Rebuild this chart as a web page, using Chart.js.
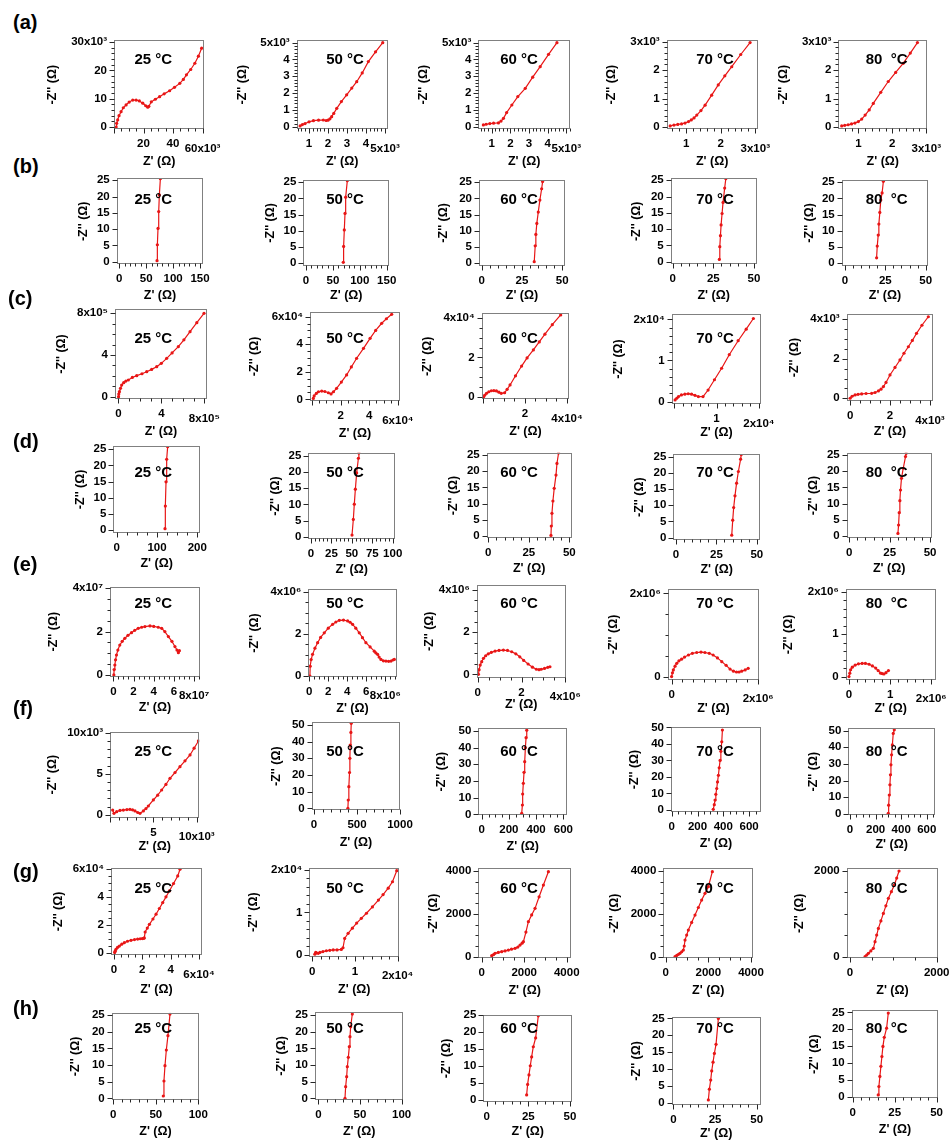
<!DOCTYPE html>
<html>
<head>
<meta charset="utf-8">
<title>Nyquist plots</title>
<script src="https://cdn.jsdelivr.net/npm/chart.js@4.4.1/dist/chart.umd.min.js"></script>
<style>
  html, body { margin: 0; padding: 0; background: #fff; }
  #fig { position: relative; width: 950px; height: 1141px; overflow: hidden;
         font-family: "Liberation Sans", Arial, Helvetica, sans-serif; color: #000; }
  #fig canvas { position: absolute; }
  .row { position: absolute; font-weight: bold; font-size: 20px; transform: translateY(-50%); }
  .temp { position: absolute; font-weight: bold; font-size: 15px; white-space: pre; transform: translate(-50%, -50%); }
</style>
</head>
<body>
<div id="fig"></div>
<script>
// ---- series (Z' , -Z''), in the units of each axis ----
const a25x = [1.4, 1.8, 2.5, 3.4, 4.8, 6.3, 8.2, 10.3, 12.7, 15.0, 17.2, 19.5, 21.5, 22.9, 23.6, 25.3, 28.0, 30.9, 34.0, 37.7, 41.0, 44.6, 47.0, 49.1, 52.0, 54.8, 57.2, 59.4];
const a25y = [0.0, 1.3, 2.5, 4.0, 5.4, 6.8, 7.8, 8.8, 9.5, 9.5, 9.2, 8.4, 7.5, 7.0, 7.3, 8.9, 9.8, 10.7, 11.7, 12.8, 14.0, 15.4, 16.8, 18.4, 20.3, 22.5, 25.0, 27.8];
const a50x = [0.53, 0.65, 0.79, 1.0, 1.23, 1.5, 1.75, 1.9, 2.0, 2.1, 2.19, 2.3, 2.46, 2.7, 2.98, 3.25, 3.51, 3.8, 4.12, 4.5, 4.88];
const a50y = [0.06, 0.14, 0.2, 0.3, 0.37, 0.4, 0.41, 0.38, 0.4, 0.48, 0.61, 0.8, 1.1, 1.5, 1.9, 2.3, 2.68, 3.2, 3.87, 4.45, 4.99];
const a60x = [0.55, 0.7, 0.9, 1.1, 1.36, 1.5, 1.63, 1.8, 2.08, 2.4, 2.8, 3.2, 3.6, 4.05, 4.5];
const a60y = [0.12, 0.16, 0.2, 0.22, 0.24, 0.35, 0.51, 0.85, 1.3, 1.8, 2.29, 2.95, 3.57, 4.3, 4.99];
const a70x = [0.54, 0.65, 0.76, 0.87, 0.97, 1.07, 1.15, 1.23, 1.31, 1.43, 1.55, 1.74, 1.93, 2.12, 2.32, 2.58, 2.85];
const a70y = [0.04, 0.07, 0.09, 0.11, 0.14, 0.19, 0.25, 0.32, 0.42, 0.58, 0.77, 1.12, 1.48, 1.8, 2.12, 2.55, 2.97];
const a80x = [0.51, 0.6, 0.7, 0.8, 0.9, 1.0, 1.1, 1.2, 1.32, 1.44, 1.66, 1.88, 2.1, 2.32, 2.53, 2.74];
const a80y = [0.04, 0.06, 0.08, 0.11, 0.14, 0.19, 0.28, 0.42, 0.6, 0.83, 1.22, 1.6, 1.92, 2.24, 2.6, 2.97];

const b25x = [70.1, 70.7, 71.9, 73.2, 74.4, 76.3];
const b25y = [0.3, 5.2, 10.2, 15.4, 20.5, 25.5];
const b50x = [69.3, 69.9, 71.2, 72.5, 73.7, 76.8];
const b50y = [0.3, 5.2, 10.3, 15.4, 20.4, 25.5];
const b60x = [32.6, 33.2, 33.6, 34.2, 35.1, 36.1, 37.2, 37.8];
const b60y = [0.5, 5.4, 8.9, 12.3, 15.8, 19.5, 23.0, 25.2];
const b70x = [28.7, 29.0, 29.4, 29.8, 30.4, 31.0, 32.0, 32.7];
const b70y = [0.7, 4.6, 8.0, 11.3, 14.8, 18.2, 22.6, 25.5];
const b80x = [19.6, 20.0, 20.6, 21.0, 21.6, 22.2, 23.0, 23.8];
const b80y = [1.7, 5.3, 8.7, 12.1, 15.7, 19.5, 21.7, 25.3];

const c25x = [0.02, 0.04, 0.1, 0.2, 0.31, 0.5, 0.7, 0.93, 1.3, 1.71, 2.2, 2.64, 3.1, 3.57, 4.0, 4.5, 5.0, 5.58, 6.1, 6.67, 7.3, 7.97];
const c25y = [0.0, 0.25, 0.48, 0.8, 1.12, 1.35, 1.5, 1.6, 1.85, 2.02, 2.2, 2.4, 2.62, 2.88, 3.2, 3.68, 4.2, 4.8, 5.45, 6.24, 7.1, 8.0];
const c50x = [0.09, 0.15, 0.3, 0.45, 0.68, 0.9, 1.14, 1.33, 1.5, 1.72, 2.05, 2.42, 2.75, 3.12, 3.6, 4.06, 4.45, 4.87, 5.2, 5.57];
const c50y = [0.07, 0.25, 0.43, 0.55, 0.6, 0.57, 0.48, 0.39, 0.55, 0.8, 1.25, 1.77, 2.35, 2.98, 3.7, 4.43, 5.0, 5.52, 5.85, 6.17];
const c60x = [0.02, 0.08, 0.17, 0.28, 0.4, 0.52, 0.64, 0.76, 0.87, 1.03, 1.15, 1.29, 1.55, 1.84, 2.1, 2.4, 2.68, 2.95, 3.3, 3.7];
const c60y = [0.0, 0.1, 0.2, 0.28, 0.33, 0.34, 0.32, 0.26, 0.2, 0.23, 0.4, 0.62, 1.08, 1.57, 1.98, 2.38, 2.78, 3.17, 3.65, 4.14];
const c70x = [0.02, 0.06, 0.1, 0.17, 0.25, 0.33, 0.41, 0.49, 0.57, 0.68, 0.8, 0.95, 1.12, 1.3, 1.51, 1.7, 1.87];
const c70y = [0.04, 0.08, 0.12, 0.16, 0.18, 0.19, 0.18, 0.15, 0.12, 0.12, 0.28, 0.53, 0.81, 1.14, 1.48, 1.76, 2.02];
const c80x = [0.0, 0.1, 0.25, 0.4, 0.58, 0.8, 1.08, 1.25, 1.42, 1.55, 1.67, 1.8, 2.0, 2.25, 2.5, 2.7, 2.92, 3.12, 3.33, 3.6, 3.92];
const c80y = [0.0, 0.1, 0.17, 0.2, 0.22, 0.24, 0.25, 0.29, 0.37, 0.46, 0.59, 0.8, 1.18, 1.56, 1.94, 2.28, 2.61, 2.93, 3.29, 3.7, 4.13];

const d25x = [119.9, 120.7, 122.4, 124.0, 126.5];
const d25y = [0.4, 7.4, 14.9, 21.9, 25.8];
const d50x = [50.2, 51.8, 53.0, 54.3, 55.9, 58.0, 58.6];
const d50y = [0.6, 5.4, 10.1, 14.7, 19.7, 24.2, 25.8];
const d60x = [38.7, 38.9, 39.3, 39.9, 40.7, 41.8, 42.4, 43.4];
const d60y = [0.2, 3.1, 7.0, 10.8, 14.7, 18.8, 22.4, 25.6];
const d70x = [34.5, 35.1, 35.7, 36.5, 37.5, 38.6, 40.0, 40.4];
const d70y = [0.8, 5.4, 9.3, 12.9, 16.8, 20.4, 24.2, 25.6];
const d80x = [30.1, 30.5, 30.9, 31.3, 31.7, 32.3, 33.4, 34.8, 35.2];
const d80y = [0.8, 3.4, 7.2, 10.9, 14.2, 17.8, 20.9, 24.5, 25.5];

const e25x = [0.05, 0.08, 0.15, 0.22, 0.31, 0.45, 0.64, 0.88, 1.14, 1.45, 1.8, 2.12, 2.46, 2.8, 3.13, 3.63, 4.0, 4.45, 4.79, 5.1, 5.45, 5.8, 6.1, 6.3, 6.44, 6.54];
const e25y = [0.0, 0.25, 0.46, 0.7, 0.92, 1.15, 1.38, 1.55, 1.69, 1.83, 1.95, 2.06, 2.15, 2.2, 2.23, 2.26, 2.24, 2.2, 2.15, 2.0, 1.77, 1.55, 1.31, 1.15, 1.03, 1.12];
const e50x = [0.07, 0.1, 0.2, 0.35, 0.6, 0.88, 1.2, 1.58, 2.0, 2.46, 2.8, 3.16, 3.6, 4.04, 4.3, 4.56, 4.9, 5.26, 5.6, 5.96, 6.4, 6.84, 7.0, 7.19, 7.35, 7.54, 7.8, 8.07, 8.35, 8.6, 8.8, 8.95];
const e50y = [0.0, 0.47, 0.78, 1.03, 1.32, 1.58, 1.83, 2.05, 2.27, 2.45, 2.56, 2.64, 2.65, 2.61, 2.55, 2.45, 2.27, 2.05, 1.82, 1.58, 1.38, 1.18, 1.1, 1.03, 0.9, 0.79, 0.72, 0.71, 0.7, 0.71, 0.76, 0.79];
const e60x = [0.03, 0.06, 0.11, 0.18, 0.26, 0.36, 0.48, 0.62, 0.79, 0.97, 1.17, 1.36, 1.55, 1.74, 1.92, 2.1, 2.3, 2.5, 2.68, 2.8, 2.9, 3.05, 3.2, 3.3];
const e60y = [0.0, 0.22, 0.44, 0.6, 0.76, 0.88, 0.97, 1.04, 1.1, 1.13, 1.15, 1.13, 1.07, 0.97, 0.83, 0.66, 0.49, 0.34, 0.24, 0.22, 0.24, 0.28, 0.33, 0.36];
const e70x = [0.0, 0.02, 0.04, 0.08, 0.12, 0.17, 0.23, 0.3, 0.39, 0.48, 0.58, 0.68, 0.77, 0.87, 0.96, 1.06, 1.16, 1.26, 1.35, 1.43, 1.5, 1.56, 1.62, 1.7, 1.77];
const e70y = [0.0, 0.09, 0.16, 0.25, 0.32, 0.38, 0.42, 0.47, 0.52, 0.56, 0.58, 0.59, 0.58, 0.56, 0.52, 0.45, 0.36, 0.27, 0.18, 0.13, 0.11, 0.11, 0.13, 0.16, 0.2];
const e80x = [0.0, 0.02, 0.04, 0.08, 0.15, 0.23, 0.32, 0.4, 0.49, 0.57, 0.65, 0.71, 0.77, 0.81, 0.85, 0.9, 0.96];
const e80y = [0.0, 0.08, 0.16, 0.22, 0.27, 0.3, 0.31, 0.31, 0.29, 0.25, 0.2, 0.14, 0.08, 0.07, 0.06, 0.09, 0.14];

const f25x = [0.31, 0.46, 0.77, 1.15, 1.54, 1.95, 2.3, 2.6, 2.88, 3.2, 3.46, 3.85, 4.15, 4.42, 5.0, 5.5, 5.96, 6.45, 6.92, 7.5, 8.07, 8.65, 9.23, 9.7, 10.2];
const f25y = [0.6, 0.2, 0.4, 0.55, 0.6, 0.65, 0.69, 0.62, 0.49, 0.3, 0.2, 0.49, 0.78, 1.09, 1.82, 2.4, 3.03, 3.7, 4.45, 5.15, 5.86, 6.57, 7.28, 8.1, 8.98];
const f50x = [394, 398, 405, 413, 417, 421, 429, 433];
const f50y = [0, 5, 13, 21.5, 30, 38, 45.5, 51];
const f60x = [294, 299, 301, 306, 311, 316, 321, 326, 331];
const f60y = [0.6, 5.6, 12.2, 18.6, 25.2, 31.6, 40, 46, 50.5];
const f70x = [322, 330, 336, 342, 349, 355, 362, 368, 375, 381, 388, 393];
const f70y = [0.4, 3.2, 6, 9.5, 13, 17, 21, 25.5, 30, 35.5, 41.3, 48.4];
const f80x = [299, 302, 307, 312, 316, 320, 325, 331, 338, 346];
const f80y = [0.4, 5.3, 11.4, 17.5, 23.5, 29.5, 35.5, 41.4, 48.3, 50.5];

const g25x = [0.05, 0.08, 0.14, 0.25, 0.38, 0.55, 0.73, 0.95, 1.2, 1.45, 1.67, 1.85, 2.0, 2.1, 2.14, 2.2, 2.35, 2.5, 2.75, 2.97, 3.2, 3.44, 3.67, 3.91, 4.2, 4.5, 4.66];
const g25y = [0.05, 0.15, 0.29, 0.42, 0.52, 0.65, 0.76, 0.86, 0.93, 0.98, 1.02, 1.04, 1.05, 1.07, 1.1, 1.52, 1.8, 2.07, 2.45, 2.79, 3.2, 3.62, 4.03, 4.45, 4.98, 5.52, 6.0];
const g50x = [0.06, 0.08, 0.1, 0.14, 0.18, 0.25, 0.33, 0.41, 0.49, 0.58, 0.68, 0.72, 0.76, 0.84, 0.94, 1.04, 1.15, 1.27, 1.41, 1.55, 1.66, 1.78, 1.88, 1.98];
const g50y = [0.02, 0.06, 0.05, 0.04, 0.06, 0.08, 0.1, 0.11, 0.12, 0.12, 0.13, 0.17, 0.39, 0.51, 0.63, 0.75, 0.86, 0.98, 1.13, 1.29, 1.42, 1.57, 1.72, 1.98];
const g60x = [470, 560, 627, 780, 941, 1100, 1255, 1400, 1569, 1700, 1804, 1900, 1961, 2080, 2196, 2350, 2510, 2700, 2902, 3137];
const g60y = [47, 100, 156, 200, 234, 270, 311, 350, 389, 450, 545, 630, 700, 1150, 1636, 1950, 2259, 2800, 3349, 3972];
const g70x = [437, 520, 600, 672, 750, 828, 870, 906, 984, 1062, 1218, 1375, 1531, 1687, 1844, 2000, 2188];
const g70y = [0, 60, 110, 156, 230, 311, 500, 778, 1010, 1246, 1600, 1947, 2300, 2648, 2960, 3271, 3972];
const g80x = [346, 385, 423, 480, 538, 577, 615, 654, 712, 769, 827, 885, 954, 1023, 1077, 1131];
const g80y = [0, 40, 78, 135, 195, 350, 505, 661, 836, 1011, 1187, 1362, 1517, 1673, 1836, 2000];

const h25x = [58.8, 59.6, 60.8, 62.4, 64.3, 66.7];
const h25y = [0.7, 5.2, 9.8, 14.5, 18.8, 25.3];
const h50x = [32, 32.8, 34, 34.8, 36, 37.2, 38, 38.8, 40.8];
const h50y = [0, 3.5, 6.5, 9.5, 12.3, 15.5, 18.5, 21.5, 25.3];
const h60x = [24, 24.6, 25.4, 26.2, 27, 28, 29.4, 31];
const h60y = [1.5, 4.6, 7.4, 10.1, 12.7, 15.7, 18.3, 24.8];
const h70x = [21, 21.6, 22.4, 23, 23.8, 24.6, 25.6, 27];
const h70y = [0.8, 4, 6.7, 9.4, 12, 14.6, 17.3, 25];
const h80x = [15.2, 15.6, 16.2, 16.8, 17.4, 18, 18.8, 20.2, 21.2];
const h80y = [0.5, 3, 6, 9, 11.9, 14.9, 17.6, 20.3, 24.8];

// ---- tick labels (the value is the leading number) ----
const a25xt = ['20', '40', '60x10³'];
const a25yt = ['0', '10', '20', '30x10³'];
const a5kx = ['1', '2', '3', '4', '5x10³'];
const a5ky = ['0', '1', '2', '3', '4', '5x10³'];
const a3kx = ['1', '2', '3x10³'];
const a3ky = ['0', '1', '2', '3x10³'];
const t25 = ['0', '5', '10', '15', '20', '25'];
const t50 = ['0', '10', '20', '30', '40', '50'];
const t150 = ['0', '50', '100', '150'];
const t100 = ['0', '50', '100'];
const t0_50 = ['0', '25', '50'];
const c25t = ['0', '4', '8x10⁵'];
const c50xt = ['2', '4', '6x10⁴'];
const c50yt = ['0', '2', '4', '6x10⁴'];
const c60xt = ['2', '4x10⁴'];
const c60yt = ['0', '2', '4x10⁴'];
const c70xt = ['1', '2x10⁴'];
const c70yt = ['0', '1', '2x10⁴'];
const c80t = ['0', '2', '4x10³'];
const d25xt = ['0', '100', '200'];
const d50xt = ['0', '25', '50', '75', '100'];
const e25xt = ['0', '2', '4', '6', '8x10⁷'];
const e25yt = ['0', '2', '4x10⁷'];
const e50xt = ['0', '2', '4', '6', '8x10⁶'];
const e4Mt = ['0', '2', '4x10⁶'];
const e2Mt = ['0', '2x10⁶'];
const e80t = ['0', '1', '2x10⁶'];
const f25xt = ['5', '10x10³'];
const f25yt = ['0', '5', '10x10³'];
const f50xt = ['0', '500', '1000'];
const t600 = ['0', '200', '400', '600'];
const g25t = ['0', '2', '4', '6x10⁴'];
const g50t = ['0', '1', '2x10⁴'];
const t4000 = ['0', '2000', '4000'];
const t2000 = ['0', '2000'];

const TEMPS = ['25 °C', '50 °C', '60 °C', '70 °C', '80  °C'];
const ROW_LABELS = ['(a)', '(b)', '(c)', '(d)', '(e)', '(f)', '(g)', '(h)'];

// ---- layout: plot frame [l, t, r, b], axis ranges, minor divisions, title centres ----
const ROW_X = [13, 13, 8, 13, 13, 13, 13, 13];
const ROW_Y = [22, 166, 298, 441, 564, 708, 871, 1008];
const TEMP_X = [153.3, 345, 519, 715, 886.7];
const TEMP_Y = [58.3, 198, 337, 471, 601.7, 750, 886.7, 1026.7];

const PANELS = [
  { r: 0, c: 0, frame: [114, 40, 204.3, 129.3], xr: [0, 61.2], yr: [-0.8, 30.7], xd: 4, yd: 5, yT: 53, xT: 162, x: a25x, y: a25y, xt: a25xt, yt: a25yt },
  { r: 0, c: 1, frame: [296.7, 40, 387.7, 129.3], xr: [0.35, 5.14], yr: [-0.14, 5.15], xd: 5, yd: 5, yT: 242.7, xT: 162, x: a50x, y: a50y, xt: a5kx, yt: a5ky },
  { r: 0, c: 2, frame: [478.3, 40, 570, 129.3], xr: [0.28, 5.2], yr: [-0.14, 5.15], xd: 5, yd: 5, yT: 423.3, xT: 162, x: a60x, y: a60y, xt: a5kx, yt: a5ky },
  { r: 0, c: 3, frame: [666.7, 40, 757.7, 129.3], xr: [0.44, 3.07], yr: [-0.08, 3.06], xd: 5, yd: 5, yT: 611.7, xT: 162, x: a70x, y: a70y, xt: a3kx, yt: a3ky },
  { r: 0, c: 4, frame: [838.3, 40, 927.3, 129.3], xr: [0.41, 3.03], yr: [-0.08, 3.06], xd: 5, yd: 5, yT: 783.3, xT: 162, x: a80x, y: a80y, xt: a3kx, yt: a3ky },

  { r: 1, c: 0, frame: [116.7, 178.3, 203.3, 264.3], xr: [-4.8, 156], yr: [-0.8, 25.6], xd: 5, yd: 1, yT: 83.3, xT: 296, x: b25x, y: b25y, xt: t150, yt: t25 },
  { r: 1, c: 1, frame: [303.3, 180, 389.3, 265.7], xr: [-5, 154.8], yr: [-0.74, 25.7], xd: 5, yd: 1, yT: 270.7, xT: 296, x: b50x, y: b50y, xt: t150, yt: t25 },
  { r: 1, c: 2, frame: [479, 180, 565, 265.7], xr: [-1.7, 51.7], yr: [-0.74, 25.7], xd: 5, yd: 1, yT: 443.3, xT: 296, x: b60x, y: b60y, xt: t0_50, yt: t25 },
  { r: 1, c: 3, frame: [670.7, 178.3, 756.7, 264.3], xr: [-1.2, 51.7], yr: [-0.8, 25.6], xd: 5, yd: 1, yT: 636.7, xT: 296, x: b70x, y: b70y, xt: t0_50, yt: t25 },
  { r: 1, c: 4, frame: [841.7, 180, 928.3, 265.7], xr: [-2, 51.6], yr: [-0.74, 25.7], xd: 5, yd: 1, yT: 810, xT: 296, x: b80x, y: b80y, xt: t0_50, yt: t25 },

  { r: 2, c: 0, frame: [115, 309, 206.7, 399], xr: [-0.31, 8.22], yr: [-0.22, 8.41], xd: 4, yd: 4, yT: 61.7, xT: 431.7, x: c25x, y: c25y, xt: c25t, yt: c25t },
  { r: 2, c: 1, frame: [310, 311.7, 400, 401], xr: [-0.14, 6.15], yr: [-0.12, 6.36], xd: 4, yd: 4, yT: 255, xT: 434, x: c50x, y: c50y, xt: c50xt, yt: c50yt },
  { r: 2, c: 2, frame: [481.7, 313.3, 569.3, 399.3], xr: [-0.06, 4.11], yr: [-0.1, 4.22], xd: 4, yd: 4, yT: 427.7, xT: 431.7, x: c60x, y: c60y, xt: c60xt, yt: c60yt },
  { r: 2, c: 3, frame: [671.7, 314, 761, 404], xr: [-0.06, 2.05], yr: [-0.06, 2.13], xd: 5, yd: 5, yT: 618.3, xT: 433, x: c70x, y: c70y, xt: c70xt, yt: c70yt },
  { r: 2, c: 4, frame: [846.7, 314, 933.3, 401], xr: [-0.17, 4.17], yr: [-0.14, 4.27], xd: 4, yd: 4, yT: 794.3, xT: 431.7, x: c80x, y: c80y, xt: c80t, yt: c80t, noTemp: true },

  { r: 3, c: 0, frame: [113.3, 446, 200, 532.7], xr: [-8.4, 206.7], yr: [-0.84, 26], xd: 4, yd: 1, yT: 81, xT: 563.3, x: d25x, y: d25y, xt: d25xt, yt: t25 },
  { r: 3, c: 1, frame: [308.3, 452.7, 395, 539.3], xr: [-3.3, 102.8], yr: [-0.7, 25.9], xd: 5, yd: 1, yT: 276, xT: 570, x: d50x, y: d50y, xt: d50xt, yt: t25 },
  { r: 3, c: 2, frame: [486.7, 452.7, 571.7, 538.3], xr: [-1, 51.5], yr: [-0.7, 25.7], xd: 5, yd: 1, yT: 453.3, xT: 568.3, x: d60x, y: d60y, xt: t0_50, yt: t25 },
  { r: 3, c: 3, frame: [673.3, 454.3, 760, 540], xr: [-1.7, 52], yr: [-0.7, 25.7], xd: 5, yd: 1, yT: 640, xT: 570, x: d70x, y: d70y, xt: t0_50, yt: t25 },
  { r: 3, c: 4, frame: [846.7, 452.7, 931.7, 538.3], xr: [-1.6, 51], yr: [-0.7, 25.7], xd: 5, yd: 1, yT: 813.3, xT: 568.3, x: d80x, y: d80y, xt: t0_50, yt: t25 },

  { r: 4, c: 0, frame: [110, 586.7, 200, 676.7], xr: [-0.33, 8.58], yr: [-0.08, 4.07], xd: 4, yd: 4, yT: 53.3, xT: 707.5, x: e25x, y: e25y, xt: e25xt, yt: e25yt },
  { r: 4, c: 1, frame: [308.3, 589.3, 396.7, 676.7], xr: [-0.1, 9.2], yr: [-0.03, 4.11], xd: 4, yd: 4, yT: 255, xT: 708.3, x: e50x, y: e50y, xt: e50xt, yt: e4Mt },
  { r: 4, c: 2, frame: [476.7, 585, 565.7, 677.5], xr: [-0.05, 4.02], yr: [-0.15, 4.23], xd: 4, yd: 4, yT: 430, xT: 705, x: e60x, y: e60y, xt: e4Mt, yt: e4Mt },
  { r: 4, c: 3, frame: [667.7, 589.3, 759, 679.5], xr: [-0.09, 2.02], yr: [-0.07, 2.1], xd: 8, yd: 4, yT: 613.3, xT: 708.3, x: e70x, y: e70y, xt: e2Mt, yt: e2Mt },
  { r: 4, c: 4, frame: [845.7, 589.3, 935.7, 679.5], xr: [-0.08, 2.11], yr: [-0.07, 2.06], xd: 5, yd: 5, yT: 788.3, xT: 708.3, x: e80x, y: e80y, xt: e80t, yt: e80t },

  { r: 5, c: 0, frame: [110, 731.7, 199.3, 817.7], xr: [0, 10.3], yr: [-0.33, 10.1], xd: 5, yd: 5, yT: 52.7, xT: 846.7, x: f25x, y: f25y, xt: f25xt, yt: f25yt },
  { r: 5, c: 1, frame: [311.7, 722.3, 400, 810], xr: [-27, 1000], yr: [-1, 51.6], xd: 5, yd: 1, yT: 276.7, xT: 843, x: f50x, y: f50y, xt: f50xt, yt: t50 },
  { r: 5, c: 2, frame: [478.3, 728.3, 567.3, 815], xr: [-25, 629], yr: [-0.4, 51.6], xd: 4, yd: 1, yT: 442, xT: 847, x: f60x, y: f60y, xt: t600, yt: t50 },
  { r: 5, c: 3, frame: [671, 726.7, 761, 812.3], xr: [-5.4, 692], yr: [-1.4, 50.4], xd: 4, yd: 1, yT: 635, xT: 843.3, x: f70x, y: f70y, xt: t600, yt: t50 },
  { r: 5, c: 4, frame: [848.3, 728.3, 935, 815], xr: [-13, 664], yr: [-0.6, 51.4], xd: 4, yd: 1, yT: 813.3, xT: 845, x: f80x, y: f80y, xt: t600, yt: t50 },

  { r: 6, c: 0, frame: [111, 867.7, 201.7, 955], xr: [-0.21, 6.19], yr: [-0.12, 6.11], xd: 4, yd: 4, yT: 58.3, xT: 990, x: g25x, y: g25y, xt: g25t, yt: g25t },
  { r: 6, c: 1, frame: [309.3, 867.7, 399.3, 956.7], xr: [-0.07, 2.04], yr: [-0.04, 2.05], xd: 5, yd: 5, yT: 253.3, xT: 990, x: g50x, y: g50y, xt: g50t, yt: g50t },
  { r: 6, c: 2, frame: [478.3, 868.3, 571, 958.3], xr: [-160, 4200], yr: [-75, 4131], xd: 4, yd: 4, yT: 433.3, xT: 991, x: g60x, y: g60y, xt: t4000, yt: t4000 },
  { r: 6, c: 3, frame: [663.3, 868.3, 753.3, 958.3], xr: [-112, 4108], yr: [-75, 4131], xd: 4, yd: 4, yT: 615, xT: 991, x: g70x, y: g70y, xt: t4000, yt: t4000 },
  { r: 6, c: 4, frame: [846.7, 868.3, 938.3, 958.3], xr: [-77, 2037], yr: [-37, 2063], xd: 4, yd: 4, yT: 800, xT: 991, x: g80x, y: g80y, xt: t2000, yt: t2000 },

  { r: 7, c: 0, frame: [111.7, 1012.7, 199.3, 1100], xr: [-1.9, 101.2], yr: [-0.5, 25.7], xd: 5, yd: 1, yT: 76, xT: 1131.7, x: h25x, y: h25y, xt: t100, yt: t25 },
  { r: 7, c: 1, frame: [315, 1011.7, 403.3, 1100], xr: [-4, 102], yr: [-0.5, 26], xd: 5, yd: 1, yT: 281.7, xT: 1131.7, x: h50x, y: h50y, xt: t100, yt: t25 },
  { r: 7, c: 2, frame: [483.3, 1015, 572.3, 1101.7], xr: [-2, 51.4], yr: [-0.5, 25.05], xd: 5, yd: 1, yT: 446.7, xT: 1131.7, x: h60x, y: h60y, xt: t0_50, yt: t25 },
  { r: 7, c: 3, frame: [671.7, 1016.7, 760.7, 1105], xr: [-1, 52.4], yr: [-0.7, 25.5], xd: 5, yd: 1, yT: 636.7, xT: 1133.3, x: h70x, y: h70y, xt: t0_50, yt: t25 },
  { r: 7, c: 4, frame: [851.7, 1010, 938.3, 1098.3], xr: [-0.6, 51], yr: [-0.5, 25.7], xd: 5, yd: 1, yT: 815, xT: 1130, x: h80x, y: h80y, xt: t0_50, yt: t25 },
];

const RED = 'rgb(232, 22, 22)';
const TICK_FONT = { size: 11.5, weight: 'bold' };
const EXP_FONT = { size: 11.5, weight: 'bold', lineHeight: 2.0 };  // exponent label sits a little lower
const TITLE_FONT = { size: 12.5, weight: 'bold' };
const TITLE_LH = 12.5 * 1.2;

Chart.defaults.font.family = '"Liberation Sans", Arial, Helvetica, sans-serif';
Chart.defaults.color = '#000';

// Igor-style frame with outward major and minor ticks
function eachMark(scale, div, fn) {
  const major = scale.ticks.map(t => t.value);
  major.forEach(v => fn(scale.getPixelForValue(v), 5));
  const step = major.length > 1 ? major[1] - major[0] : 0;
  if (div <= 1 || step <= 0) return;
  const m = step / div;
  for (let k = Math.ceil(scale.min / m - 1e-9); k * m <= scale.max + 1e-9; k++) {
    const v = k * m;
    const r = v / step;
    if (Math.abs(r - Math.round(r)) < 1e-6) {
      if (!major.some(mv => Math.abs(mv - v) < 1e-9)) fn(scale.getPixelForValue(v), 5);
    } else {
      fn(scale.getPixelForValue(v), 3);
    }
  }
}

const igorAxes = {
  id: 'igorAxes',
  afterDraw(chart, args, opts) {
    const { ctx, chartArea: a } = chart;
    const L = Math.round(a.left) + 0.5, T = Math.round(a.top) + 0.5;
    const R = Math.round(a.right) - 0.5, B = Math.round(a.bottom) - 0.5;
    ctx.save();
    ctx.lineWidth = 1;
    ctx.strokeStyle = '#808080';
    ctx.strokeRect(L, T, R - L, B - T);
    ctx.strokeStyle = '#262626';
    ctx.beginPath();
    eachMark(chart.scales.x, opts.xd, (p, len) => {
      const px = Math.round(p) + 0.5;
      ctx.moveTo(px, B); ctx.lineTo(px, B + len);
    });
    eachMark(chart.scales.y, opts.yd, (p, len) => {
      const py = Math.round(p) + 0.5;
      ctx.moveTo(L, py); ctx.lineTo(L - len, py);
    });
    ctx.stroke();
    ctx.restore();
  }
};

const fig = document.getElementById('fig');

function makePanel(p) {
  const [fl, ft, fr, fb] = p.frame;
  const cl = Math.floor(p.yT - TITLE_LH / 2);
  const ct = Math.floor(ft - 14);
  const cr = Math.ceil(fr + 26);
  const cb = Math.ceil(p.xT + TITLE_LH / 2);
  const w = cr - cl, h = cb - ct;

  const canvas = document.createElement('canvas');
  canvas.width = w; canvas.height = h;
  canvas.style.left = cl + 'px'; canvas.style.top = ct + 'px';
  canvas.style.width = w + 'px'; canvas.style.height = h + 'px';
  fig.appendChild(canvas);

  new Chart(canvas, {
    type: 'scatter',
    data: {
      datasets: [{
        data: p.x.map((v, i) => ({ x: v, y: p.y[i] })),
        showLine: true,
        borderColor: RED,
        backgroundColor: RED,
        borderWidth: 1.2,
        pointRadius: 1.6,
        pointBorderWidth: 0,
        pointHoverRadius: 0
      }]
    },
    options: {
      responsive: false,
      animation: false,
      events: [],
      layout: { padding: { left: 0, top: ft - ct, right: cr - fr, bottom: 0 } },
      plugins: {
        legend: { display: false },
        tooltip: { enabled: false },
        igorAxes: { xd: p.xd, yd: p.yd }
      },
      scales: {
        x: {
          type: 'linear', position: 'bottom', min: p.xr[0], max: p.xr[1],
          grid: { display: false, drawTicks: false },
          border: { display: false },
          afterBuildTicks: s => { s.ticks = p.xt.map(l => ({ value: parseFloat(l) })); },
          afterFit: s => { s.height = cb - fb; },
          ticks: { autoSkip: false, maxRotation: 0, minRotation: 0, padding: 8, color: '#000',
                   font: ctx => (p.xt[ctx.index] || '').includes('x10') ? EXP_FONT : TICK_FONT,
                   callback: (v, i) => p.xt[i] },
          title: { display: true, text: "Z' (Ω)", font: TITLE_FONT, color: '#000',
                   padding: { top: 0, bottom: cb - p.xT - TITLE_LH / 2 } }
        },
        y: {
          type: 'linear', position: 'left', min: p.yr[0], max: p.yr[1],
          grid: { display: false, drawTicks: false },
          border: { display: false },
          afterBuildTicks: s => { s.ticks = p.yt.map(l => ({ value: parseFloat(l) })); },
          afterFit: s => { s.width = fl - cl; },
          ticks: { autoSkip: false, padding: 7, font: TICK_FONT, color: '#000',
                   callback: (v, i) => p.yt[i] },
          title: { display: true, text: "-Z'' (Ω)", font: TITLE_FONT, color: '#000',
                   padding: { top: p.yT - cl - TITLE_LH / 2, bottom: 0 } }
        }
      }
    },
    plugins: [igorAxes]
  });
}

PANELS.forEach(makePanel);

// temperature tags and row letters
PANELS.forEach(p => {
  if (p.noTemp) return;
  const s = document.createElement('span');
  s.className = 'temp';
  s.textContent = TEMPS[p.c];
  s.style.left = TEMP_X[p.c] + 'px';
  s.style.top = TEMP_Y[p.r] + 'px';
  fig.appendChild(s);
});
ROW_LABELS.forEach((t, i) => {
  const s = document.createElement('span');
  s.className = 'row';
  s.textContent = t;
  s.style.left = ROW_X[i] + 'px';
  s.style.top = ROW_Y[i] + 'px';
  fig.appendChild(s);
});
</script>
</body>
</html>
